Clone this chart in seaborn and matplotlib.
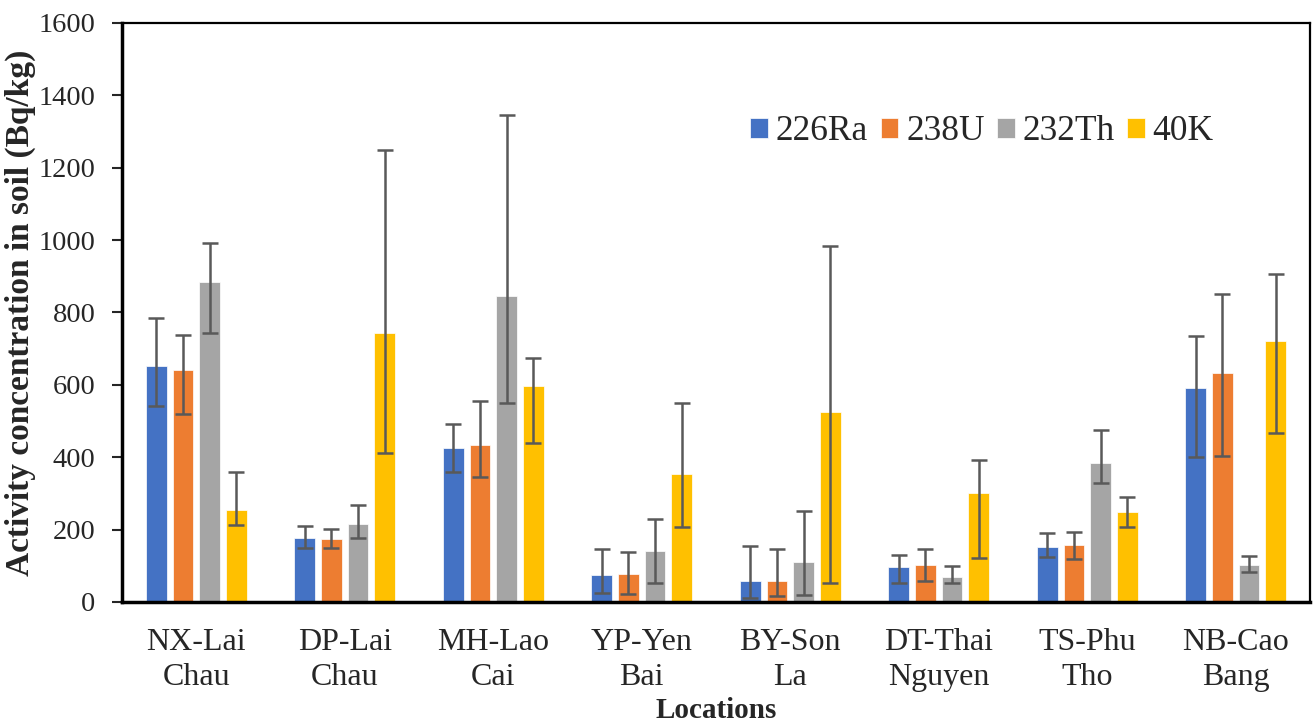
"""Concentraciones de actividad en suelo por localidad (barras agrupadas con rango min-max)."""
import matplotlib
matplotlib.use("Agg")
import matplotlib.pyplot as plt
import pandas as pd
import seaborn as sns

locations = ["NX-Lai\nChau", "DP-Lai\nChau", "MH-Lao\nCai", "YP-Yen\nBai",
             "BY-Son\nLa", "DT-Thai\nNguyen", "TS-Phu\nTho", "NB-Cao\nBang"]
nuclides = ["226Ra", "238U", "232Th", "40K"]

ra = [653, 178, 426, 74, 59, 98, 153, 592]
ra_lo = [541, 149, 358, 24, 10, 52, 124, 401]
ra_hi = [785, 211, 491, 146, 154, 131, 191, 735]

u = [640, 173, 433, 77, 57, 101, 157, 634]
u_lo = [519, 150, 346, 22, 16, 58, 119, 403]
u_hi = [738, 203, 554, 137, 146, 145, 193, 850]

th = [883, 215, 845, 142, 111, 70, 385, 102]
th_lo = [744, 177, 551, 52, 19, 52, 328, 84]
th_hi = [993, 269, 1345, 228, 252, 99, 474, 128]

k = [253, 742, 598, 355, 525, 300, 250, 722]
k_lo = [212, 411, 440, 208, 52, 121, 208, 467]
k_hi = [358, 1250, 673, 549, 984, 391, 290, 907]

colors = ["#4472C4", "#ED7D31", "#A5A5A5", "#FFC000"]

values = [ra, u, th, k]
lows = [ra_lo, u_lo, th_lo, k_lo]
highs = [ra_hi, u_hi, th_hi, k_hi]

rows = []
for nuc, vals in zip(nuclides, values):
    for loc, v in zip(locations, vals):
        rows.append({"Location": loc, "Nuclide": nuc, "Value": v})
df = pd.DataFrame(rows)

sns.set_style("white")
plt.rcParams["font.family"] = ["Liberation Serif", "DejaVu Serif"]

fig = plt.figure(figsize=(13.13, 7.25), dpi=100)
ax = fig.add_axes([0.0929, 0.1697, 0.9048, 0.7986])

sns.barplot(data=df, x="Location", y="Value", hue="Nuclide",
            palette=colors, width=0.719, gap=0.225, errorbar=None,
            edgecolor="white", linewidth=0.5, saturation=1, ax=ax)

# rangos min-max asimétricos
for cont, vals, lo, hi in zip(ax.containers, values, lows, highs):
    xs = [p.get_x() + p.get_width() / 2 for p in cont]
    err = [[v - l for v, l in zip(vals, lo)], [h - v for v, h in zip(vals, hi)]]
    ax.errorbar(xs, vals, yerr=err, fmt="none", ecolor="#595959",
                elinewidth=1.8, capsize=5.5, capthick=1.8, zorder=3)

ax.set_xlim(-0.5, 7.5)
ax.set_ylim(0, 1600)
ax.set_yticks(range(0, 1601, 200))

ax.set_xlabel("Locations", fontsize=21, fontweight="bold", labelpad=4)
ax.set_ylabel("Activity concentration in soil (Bq/kg)", fontsize=24,
              fontweight="bold", labelpad=2)

ax.tick_params(axis="y", direction="out", length=7, width=1.5,
               labelsize=20.5, pad=12, left=True)
ax.tick_params(axis="x", length=0, labelsize=23, pad=19)
for lab in ax.get_xticklabels():
    lab.set_linespacing(1.25)

for side in ["left", "bottom"]:
    ax.spines[side].set_linewidth(2.5)
    ax.spines[side].set_color("black")
for side in ["top", "right"]:
    ax.spines[side].set_linewidth(1.6)
    ax.spines[side].set_color("black")
ax.grid(False)

sns.move_legend(ax, "center", bbox_to_anchor=(0.724, 0.812), ncol=4,
                frameon=False, title=None, fontsize=25.5,
                handlelength=0.5, handleheight=0.5, handletextpad=0.22,
                columnspacing=0.35, borderpad=0)

fig.savefig("out.png", dpi=100)
